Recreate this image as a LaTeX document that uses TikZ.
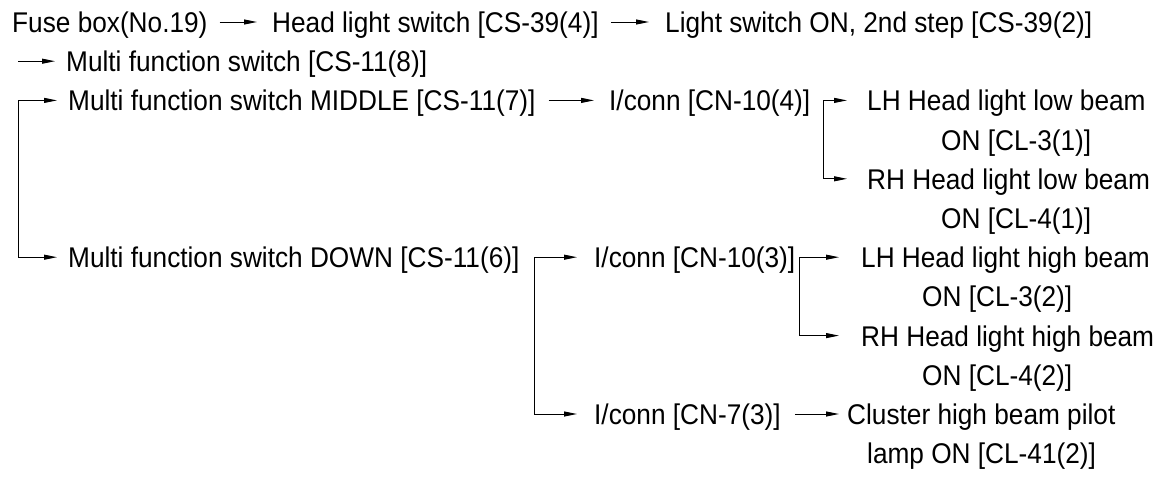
\documentclass[tikz,border=0pt]{standalone}
\usepackage{fontspec}
\setmainfont[FakeStretch=0.92]{Liberation Sans}
\usetikzlibrary{arrows.meta}
\begin{document}
\begin{tikzpicture}[x=1pt,y=-1pt]
\tikzstyle{txt} = [anchor=west,inner sep=0pt,text height=21pt,text depth=0pt,font=\fontsize{28.5}{32}\selectfont] %texte
\tikzstyle{arr} = [line width=1pt,-{Triangle[length=13pt,width=5pt]},shorten <=12pt,shorten >=15pt]
\tikzstyle{brk} = [line width=1pt,-{Triangle[length=13pt,width=5pt]}]
\useasboundingbox (0,0) rectangle (1176,480);
%ligne du haut
\draw(12,22)node[txt](fuse){Fuse box(No.19)};
\draw(272,22)node[txt](hlsw){Head light switch [CS-39(4)]};
\draw(665,22)node[txt](lsw){Light switch ON, 2nd step [CS-39(2)]};
\draw[arr] (fuse)--(hlsw);
\draw[arr,shorten >=16pt] (hlsw)--(lsw);
%commutateur multifonction
\draw(66,61.2)node[txt](mfsw){Multi function switch [CS-11(8)]};
\draw(68,100.4)node[txt](mfmid){Multi function switch MIDDLE [CS-11(7)]};
\draw(68,257.2)node[txt](mfdown){Multi function switch DOWN [CS-11(6)]};
\coordinate (b0) at (18,61.2);
\coordinate (b1) at (18,100.4);
\draw[brk,shorten >=11pt] (b0)--(mfsw.west);
\draw[brk,shorten >=11pt] (b1)--(mfmid.west);
\draw[brk,shorten >=11pt] (b1)|-(mfdown.west);
%position MIDDLE
\draw(609,100.4)node[txt](conn4){I/conn [CN-10(4)]};
\draw[arr,shorten <=13pt] (mfmid)--(conn4);
\draw(867,100.4)node[txt](lhlow){LH Head light low beam};
\draw(941,139.6)node[txt](lhlowb){ON [CL-3(1)]};
\draw(867,178.8)node[txt](rhlow){RH Head light low beam};
\draw(941,218)node[txt](rhlowb){ON [CL-4(1)]};
\coordinate (b4) at ([xshift=13pt]conn4.east);
\draw[brk,shorten >=20pt] (b4)--(lhlow.west);
\draw[brk,shorten >=20pt] (b4)|-(rhlow.west);
%position DOWN
\draw(594,257.2)node[txt](conn3){I/conn [CN-10(3)]};
\draw(594,414)node[txt](conn7){I/conn [CN-7(3)]};
\coordinate (b2) at ([xshift=15pt]mfdown.east);
\draw[brk,shorten >=17pt] (b2)--(conn3.west);
\draw[brk,shorten >=17pt] (b2)|-(conn7.west);
\draw(861,257.2)node[txt](lhhigh){LH Head light high beam};
\draw(922,296.4)node[txt](lhhighb){ON [CL-3(2)]};
\draw(861,335.6)node[txt](rhhigh){RH Head light high beam};
\draw(922,374.8)node[txt](rhhighb){ON [CL-4(2)]};
\coordinate (b3) at ([xshift=4pt]conn3.east);
\draw[brk,shorten >=22pt] (b3)--(lhhigh.west);
\draw[brk,shorten >=22pt] (b3)|-(rhhigh.west);
\draw(847,414)node[txt](clust){Cluster high beam pilot};
\draw(867,453.2)node[txt](clustb){lamp ON [CL-41(2)]};
\draw[arr,shorten <=14pt,shorten >=8pt] (conn7)--(clust);
\end{tikzpicture}
\end{document}
